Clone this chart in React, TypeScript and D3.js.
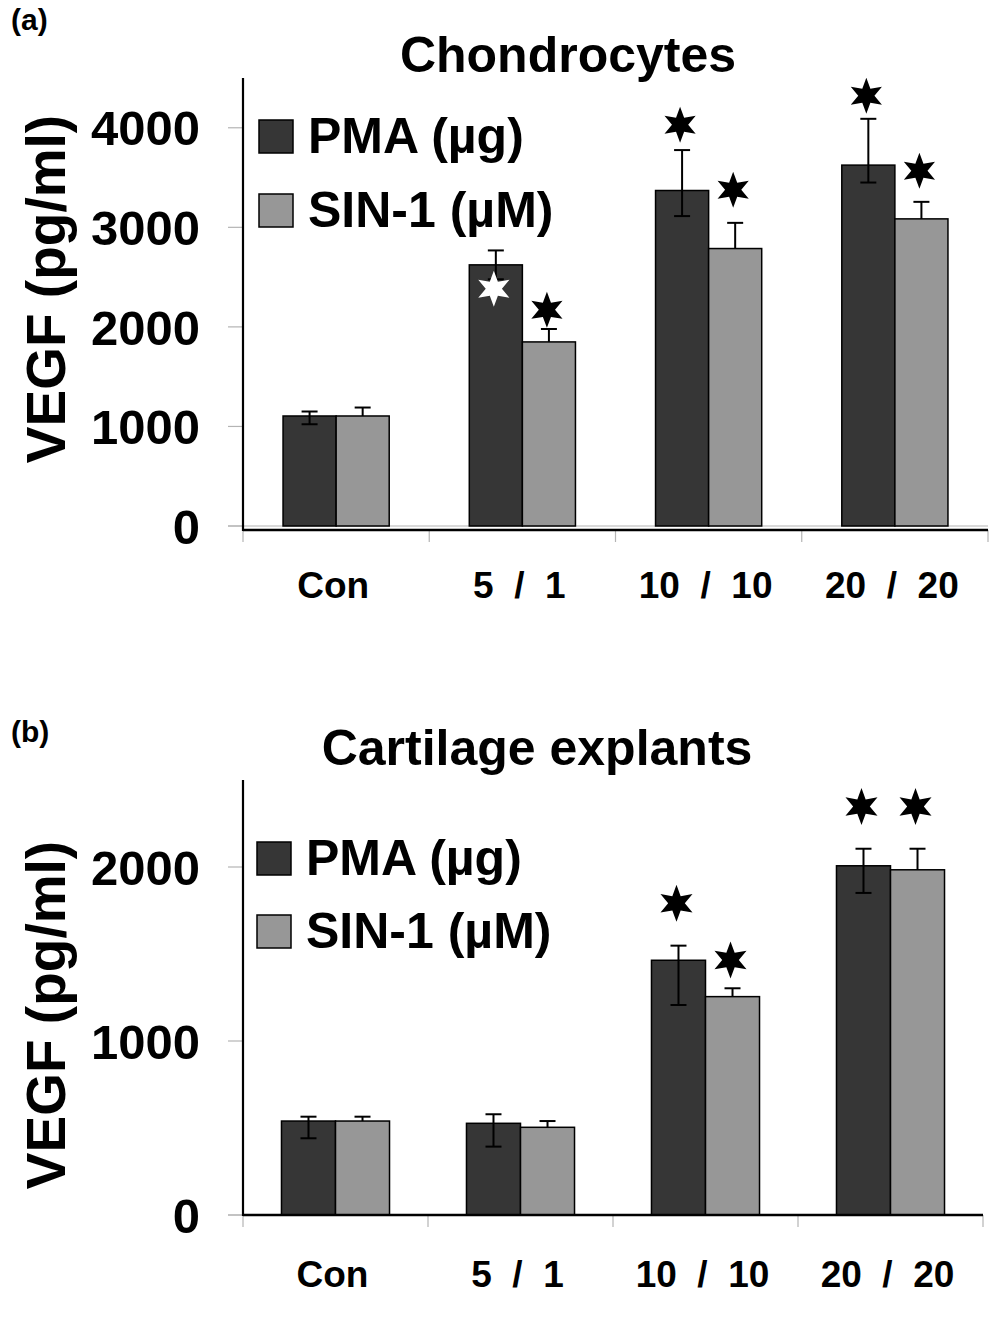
import React from "react";
import * as d3 from "d3";

const categories = ["Con", "5  /  1", "10  /  10", "20  /  20"];
const seriesNames = ["PMA (µg)", "SIN-1 (µM)"];

// Panel (a) Chondrocytes
const pmaA = [1105, 2623, 3370, 3625];
const sinA = [1105, 1849, 2787, 3085];
const pmaErrUpA = [45, 145, 406, 465];
const pmaErrDownA = [83, 145, 257, 175];
const sinErrUpA = [85, 130, 258, 171];
const pmaStarA: (number | null)[] = [null, 2382, 4030, 4322];
const sinStarA: (number | null)[] = [null, 2171, 3377, 3568];
const pmaStarWhiteA = [false, true, false, false];
const ticksA = [0, 1000, 2000, 3000, 4000];

// Panel (b) Cartilage explants
const pmaB = [540, 527, 1464, 2007];
const sinB = [540, 504, 1255, 1984];
const pmaErrUpB = [25, 52, 84, 98];
const pmaErrDownB = [99, 134, 257, 156];
const sinErrUpB = [25, 36, 48, 121];
const pmaStarB: (number | null)[] = [null, null, 1791, 2347];
const sinStarB: (number | null)[] = [null, null, 1466, 2347];
const ticksB = [0, 1000, 2000];

const FONT = "'Liberation Sans', Arial, Helvetica, sans-serif";
const DARK = "#363636";
const LIGHT = "#979797";
const GRID = "#b4b4b4";

function starPath(R: number, r: number) {
  const pts: [number, number][] = [];
  for (let i = 0; i < 12; i++) {
    const a = -Math.PI / 2 + (i * Math.PI) / 6;
    const rad = i % 2 === 0 ? R : r;
    pts.push([rad * Math.cos(a), rad * Math.sin(a)]);
  }
  return d3.line()(pts) + "Z";
}

type PanelProps = {
  tag: string;
  tagY: number;
  title: string;
  titleX: number;
  titleY: number;
  pma: number[];
  sin: number[];
  pmaUp: number[];
  pmaDown: number[];
  sinUp: number[];
  pmaStar: (number | null)[];
  sinStar: (number | null)[];
  pmaWhite: boolean[];
  ticks: number[];
  yMax: number;
  yRange: [number, number];
  xRange: [number, number];
  padInner: number;
  axisOffset: number;
  legendY: [number, number];
  legendX: number;
  labelY: number;
  ylabelY: number;
  starR: number;
};

function Panel(p: PanelProps) {
  const x0 = d3
    .scaleBand<string>()
    .domain(categories)
    .range(p.xRange)
    .paddingInner(p.padInner)
    .paddingOuter(p.padInner / 2);
  const x1 = d3
    .scaleBand<string>()
    .domain(seriesNames)
    .range([0, x0.bandwidth()]);
  const y = d3.scaleLinear().domain([0, p.yMax]).range(p.yRange);
  const y0 = y(0);
  const axisY = y0 + p.axisOffset;
  const step = x0.step();
  const left = p.xRange[0];
  const right = p.xRange[1];
  const star = starPath(p.starR, p.starR * 0.45);
  const cap = 8;

  return (
    <g>
      <text x={11} y={p.tagY} fontFamily={FONT} fontWeight="bold" fontSize={30}>
        {p.tag}
      </text>
      <text
        x={p.titleX}
        y={p.titleY}
        textAnchor="middle"
        fontFamily={FONT}
        fontWeight="bold"
        fontSize={50}
      >
        {p.title}
      </text>
      {/* zero gray line */}
      <line x1={left - 15} x2={right} y1={y0} y2={y0} stroke={GRID} strokeWidth={1.2} />
      {/* y ticks */}
      {p.ticks.map((t) => (
        <g key={t}>
          <line x1={left - 15} x2={left} y1={y(t)} y2={y(t)} stroke={GRID} strokeWidth={1.2} />
          <text
            x={200}
            y={y(t)}
            dy="0.36em"
            textAnchor="end"
            fontFamily={FONT}
            fontWeight="bold"
            fontSize={49}
          >
            {t}
          </text>
        </g>
      ))}
      {/* category ticks */}
      {d3.range(categories.length + 1).map((i) => (
        <line
          key={i}
          x1={left + i * step}
          x2={left + i * step}
          y1={axisY}
          y2={axisY + 12}
          stroke={GRID}
          strokeWidth={1.2}
        />
      ))}
      {/* bars */}
      {categories.map((c, i) => {
        const bx = x0(c)!;
        const xd = bx + x1(seriesNames[0])!;
        const xl = bx + x1(seriesNames[1])!;
        const w = x1.bandwidth();
        const cd = xd + w / 2;
        const cl = xl + w / 2;
        return (
          <g key={c}>
            <rect x={xd} y={y(p.pma[i])} width={w} height={y0 - y(p.pma[i])} fill={DARK} stroke="#000" strokeWidth={1.5} />
            <rect x={xl} y={y(p.sin[i])} width={w} height={y0 - y(p.sin[i])} fill={LIGHT} stroke="#000" strokeWidth={1.5} />
            {/* pma error (both) */}
            <line x1={cd} x2={cd} y1={y(p.pma[i] + p.pmaUp[i])} y2={y(p.pma[i] - p.pmaDown[i])} stroke="#000" strokeWidth={2} />
            <line x1={cd - cap} x2={cd + cap} y1={y(p.pma[i] + p.pmaUp[i])} y2={y(p.pma[i] + p.pmaUp[i])} stroke="#000" strokeWidth={2} />
            <line x1={cd - cap} x2={cd + cap} y1={y(p.pma[i] - p.pmaDown[i])} y2={y(p.pma[i] - p.pmaDown[i])} stroke="#000" strokeWidth={2} />
            {/* sin error (plus) */}
            <line x1={cl} x2={cl} y1={y(p.sin[i] + p.sinUp[i])} y2={y(p.sin[i])} stroke="#000" strokeWidth={2} />
            <line x1={cl - cap} x2={cl + cap} y1={y(p.sin[i] + p.sinUp[i])} y2={y(p.sin[i] + p.sinUp[i])} stroke="#000" strokeWidth={2} />
            {p.pmaStar[i] != null && (
              <path d={star} transform={`translate(${cd - 2},${y(p.pmaStar[i] as number)})`} fill={p.pmaWhite[i] ? "#fff" : "#000"} />
            )}
            {p.sinStar[i] != null && (
              <path d={star} transform={`translate(${cl - 2},${y(p.sinStar[i] as number)})`} fill="#000" />
            )}
            <text
              x={bx + x0.bandwidth() / 2 - 3}
              y={p.labelY}
              textAnchor="middle"
              fontFamily={FONT}
              fontWeight="bold"
              fontSize={37}
              style={{ whiteSpace: "pre" }}
            >
              {c}
            </text>
          </g>
        );
      })}
      {/* axes */}
      <line x1={left} x2={left} y1={p.yRange[1]} y2={axisY + 1} stroke="#000" strokeWidth={2.2} />
      <line x1={left} x2={right} y1={axisY} y2={axisY} stroke="#000" strokeWidth={2.5} />
      {/* legend */}
      {seriesNames.map((s, k) => (
        <g key={s}>
          <rect
            x={p.legendX}
            y={p.legendY[k] - 33}
            width={34}
            height={33}
            fill={k === 0 ? DARK : LIGHT}
            stroke="#000"
            strokeWidth={1.5}
          />
          <text x={p.legendX + 49} y={p.legendY[k]} fontFamily={FONT} fontWeight="bold" fontSize={50}>
            {s}
          </text>
        </g>
      ))}
      {/* y label */}
      <text
        transform={`translate(65,${p.ylabelY}) rotate(-90)`}
        textAnchor="middle"
        fontFamily={FONT}
        fontWeight="bold"
        fontSize={55}
      >
        VEGF (pg/ml)
      </text>
    </g>
  );
}

export default function App() {
  return (
    <svg
      width={1004}
      height={1319}
      viewBox="0 0 1004 1319"
      style={{ position: "absolute", left: 0, top: 0, background: "#fff" }}
    >
      <rect width={1004} height={1319} fill="#fff" />
      <Panel
        tag="(a)"
        tagY={30}
        title="Chondrocytes"
        titleX={568}
        titleY={72}
        pma={pmaA}
        sin={sinA}
        pmaUp={pmaErrUpA}
        pmaDown={pmaErrDownA}
        sinUp={sinErrUpA}
        pmaStar={pmaStarA}
        sinStar={sinStarA}
        pmaWhite={pmaStarWhiteA}
        ticks={ticksA}
        yMax={4500}
        yRange={[526, 78]}
        xRange={[243, 988]}
        padInner={0.43}
        axisOffset={4}
        legendY={[153, 227]}
        legendX={259}
        labelY={598}
        ylabelY={289}
        starR={18}
      />
      <Panel
        tag="(b)"
        tagY={742}
        title="Cartilage explants"
        titleX={537}
        titleY={765}
        pma={pmaB}
        sin={sinB}
        pmaUp={pmaErrUpB}
        pmaDown={pmaErrDownB}
        sinUp={sinErrUpB}
        pmaStar={pmaStarB}
        sinStar={sinStarB}
        pmaWhite={[false, false, false, false]}
        ticks={ticksB}
        yMax={2500}
        yRange={[1215, 780]}
        xRange={[243, 983]}
        padInner={0.416}
        axisOffset={0}
        legendY={[875, 948]}
        legendX={257}
        labelY={1287}
        ylabelY={1015}
        starR={18.5}
      />
    </svg>
  );
}
